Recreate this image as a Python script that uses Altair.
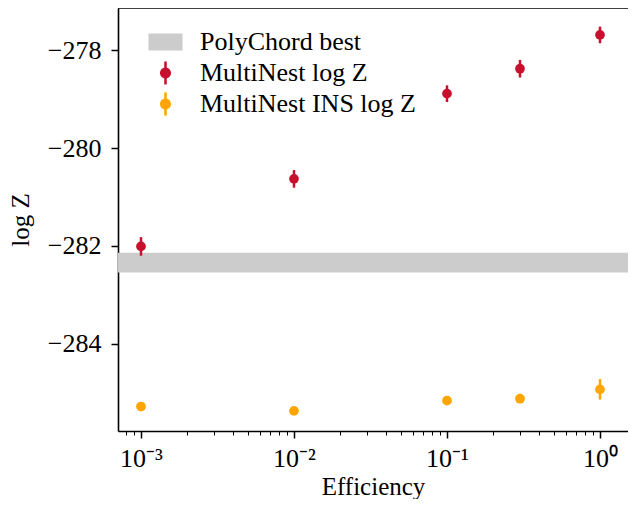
import altair as alt
import pandas as pd

# ---- data ----
efficiency = [0.001, 0.01, 0.1, 0.3, 1.0]
mn_logz = [-282.01, -280.63, -278.89, -278.38, -277.69]
mn_err = [0.19, 0.18, 0.17, 0.18, 0.17]
ins_logz = [-285.28, -285.37, -285.16, -285.12, -284.93]
ins_err = [0.05, 0.05, 0.06, 0.06, 0.21]
pc_low = [-282.54]
pc_high = [-282.14]
series_names = ["PolyChord best", "MultiNest log Z", "MultiNest INS log Z"]
series_colors = ["#cccccc", "#c8102e", "#ffa500"]

x_domain = [7.075e-4, 1.524]
y_domain = [-285.78, -277.14]
y_ticks = [-284, -282, -280, -278]

FONT = "Liberation Serif"
W, H = 510, 423

mn = pd.DataFrame({"eff": efficiency, "logz": mn_logz, "err": mn_err})
ins = pd.DataFrame({"eff": efficiency, "logz": ins_logz, "err": ins_err})
band = pd.DataFrame({"lo": pc_low, "hi": pc_high})
leg = pd.DataFrame({"series": series_names})

major = [1e-3, 1e-2, 1e-1, 1.0]
minor = [m * 10.0 ** e for e in range(-4, 1) for m in range(2, 10)]
x_ticks = sorted(v for v in major + minor if x_domain[0] <= v <= x_domain[1])

is_major = "abs(log(datum.value)/LN10 - round(log(datum.value)/LN10)) < 1e-6"
expo = "round(log(datum.value)/LN10)"
label_expr = (
    f"{is_major} ? '10' + ({expo} == -3 ? '⁻³' : {expo} == -2 ? '⁻²' : "
    f"{expo} == -1 ? '⁻¹' : '⁰') : ''"
)

xscale = alt.Scale(type="log", domain=x_domain, nice=False, zero=False)
yscale = alt.Scale(domain=y_domain, nice=False, zero=False)

x_axis = alt.Axis(
    values=x_ticks, labelExpr=label_expr, grid=False,
    domainColor="black", domainWidth=1.6, tickColor="black",
    tickSize={"condition": {"test": is_major, "value": 7}, "value": 4},
    tickWidth={"condition": {"test": is_major, "value": 1.5}, "value": 1},
    labelFont=FONT, labelFontSize=26, labelColor="black", labelPadding=7,
    labelOverlap=False, labelFlush=False,
    title="Efficiency", titleFont=FONT, titleFontSize=25, titleFontWeight="normal",
    titleColor="black", titlePadding=3,
)
y_axis = alt.Axis(
    values=y_ticks, format="d", grid=False,
    domainColor="black", domainWidth=1.6, tickColor="black", tickSize=7, tickWidth=1.5,
    labelFont=FONT, labelFontSize=26, labelColor="black", labelPadding=10,
    title="log Z", titleFont=FONT, titleFontSize=25, titleFontWeight="normal",
    titleColor="black", titlePadding=14,
)

rect_shape = "M-2,-1H2V1H-2Z"
pt_shape = ("M-0.65,0A0.65,0.65 0 1,1 0.65,0A0.65,0.65 0 1,1 -0.65,0Z "
            "M-0.15,-1.35H0.15V1.35H-0.15Z")

band_layer = alt.Chart(band).mark_rect(color=series_colors[0]).encode(
    y=alt.Y("lo:Q", scale=yscale, axis=y_axis),
    y2="hi:Q",
)


def series_layers(df, color):
    base = alt.Chart(df).transform_calculate(
        lo="datum.logz - datum.err", hi="datum.logz + datum.err"
    )
    err = base.mark_rule(strokeWidth=2.5, color=color).encode(
        x=alt.X("eff:Q", scale=xscale, axis=x_axis),
        y=alt.Y("lo:Q", scale=yscale),
        y2="hi:Q",
    )
    dot = base.mark_circle(size=95, opacity=1, color=color).encode(
        x=alt.X("eff:Q", scale=xscale),
        y=alt.Y("logz:Q", scale=yscale),
    )
    return [err, dot]


top_rule = alt.Chart(band).mark_rule(color="black", strokeWidth=1.6).encode(
    y=alt.value(0)
)

legend_props = dict(
    title=None, orient="none", legendX=34.5, legendY=21,
    symbolSize=289, symbolStrokeWidth=0, symbolOpacity=1,
    labelFont=FONT, labelFontSize=26, labelColor="black",
    labelOffset=21.5, rowPadding=5, padding=0, labelLimit=400,
)

legend_layer = alt.Chart(leg).mark_point(filled=True, size=0).encode(
    color=alt.Color(
        "series:N",
        scale=alt.Scale(domain=series_names, range=series_colors),
        legend=alt.Legend(**legend_props),
    ),
    shape=alt.Shape(
        "series:N",
        scale=alt.Scale(domain=series_names, range=[rect_shape, pt_shape, pt_shape]),
        legend=alt.Legend(**legend_props),
    ),
)

chart = alt.layer(
    band_layer,
    *series_layers(mn, series_colors[1]),
    *series_layers(ins, series_colors[2]),
    top_rule,
    legend_layer,
).properties(
    width=W, height=H,
    padding={"left": 110, "top": 0, "right": 0, "bottom": 68},
    autosize="none",
).configure_view(stroke=None)

chart.save("out.html", embed_options={"renderer": "svg", "actions": False})
